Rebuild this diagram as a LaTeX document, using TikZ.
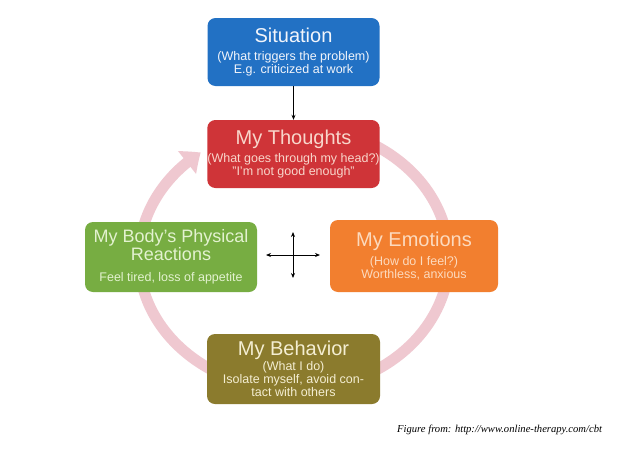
\documentclass[tikz,border=0pt]{standalone}
\usepackage{fontspec}
\setmainfont{Liberation Sans}
\newfontfamily\footfont{Liberation Serif}
\usetikzlibrary{arrows.meta,bending}
\definecolor{sitblue}{HTML}{2271C4}
\definecolor{sittext}{HTML}{F2F5FB}
\definecolor{thred}{HTML}{CF3438}
\definecolor{thtext}{HTML}{F8D6CB}
\definecolor{bodygreen}{HTML}{77AD42}
\definecolor{bodytext}{HTML}{E3F2D0}
\definecolor{emoorange}{HTML}{F27F2F}
\definecolor{emotext}{HTML}{FCDABE}
\definecolor{behavolive}{HTML}{8B7B2D}
\definecolor{behavtext}{HTML}{F4EED2}
\definecolor{bandpink}{HTML}{EFC8D0}
\newcommand\ttlfont{\fontsize{20}{22}\selectfont}
\newcommand\sttlfont{\fontsize{18}{19}\selectfont}
\begin{document}
\begin{tikzpicture}[x=1pt,y=-1pt,
  box/.style={rounded corners=8pt, inner sep=0pt, align=center,
    font=\fontsize{12.5}{13}\selectfont},
  band/.style={draw=bandpink, line width=11pt},
  link/.style={draw=black, line width=0.8pt},
  smalltip/.style={-{Stealth[length=5pt,width=4pt]}},
  bothtips/.style={{Stealth[length=5pt,width=4pt]}-{Stealth[length=5pt,width=4pt]}}]
\fill[white] (0,0) rectangle (640,450);
\useasboundingbox (0,0) rectangle (640,450);
% circular band
\coordinate (cc) at (294,258);
\draw[band, -{Triangle[width=28pt,length=17pt,bend]}]
  ([shift={(-60:155 and 132)}]cc) arc[start angle=-60, end angle=233, x radius=155, y radius=132];
% boxes
\node[box, fill=sitblue, text=sittext, minimum width=172pt, minimum height=68pt] (sit) at (293.5,52)
  {{\ttlfont Situation}\\[5pt] (What triggers the problem)\\ E.g. criticized at work};
\node[box, fill=thred, text=thtext, minimum width=171pt, minimum height=68pt] (th) at (293.5,154)
  {{\ttlfont My Thoughts}\\[4pt] (What goes through my head?)\\ "I'm not good enough"};
\node[box, fill=bodygreen, text=bodytext, minimum width=172pt, minimum height=70pt] (body) at (171,257)
  {{\sttlfont My Body's Physical}\\{\sttlfont Reactions}\\[8pt] Feel tired, loss of appetite};
\node[box, fill=emoorange, text=emotext, minimum width=168pt, minimum height=72pt] (emo) at (414,256)
  {{\ttlfont My Emotions}\\[5pt] (How do I feel?)\\ Worthless, anxious};
\node[box, fill=behavolive, text=behavtext, minimum width=173pt, minimum height=70pt] (beh) at (293.5,369)
  {{\ttlfont My Behavior}\\[1pt] (What I do)\\ Isolate myself, avoid con-\\ tact with others};
% connectors
\draw[link, smalltip] (sit) -- (th);
\coordinate (crl) at (266,255);
\coordinate (crr) at (320,255);
\coordinate (crt) at (293,232);
\coordinate (crb) at (293,278);
\draw[link, bothtips] (crl) -- (crr);
\draw[link, bothtips] (crt) -- (crb);
% source
\node[font=\footfont\itshape\fontsize{10.6}{12}\selectfont, anchor=base west, inner sep=0pt] (src) at (397,432)
  {Figure from: http://www.online-therapy.com/cbt};
\end{tikzpicture}
\end{document}
